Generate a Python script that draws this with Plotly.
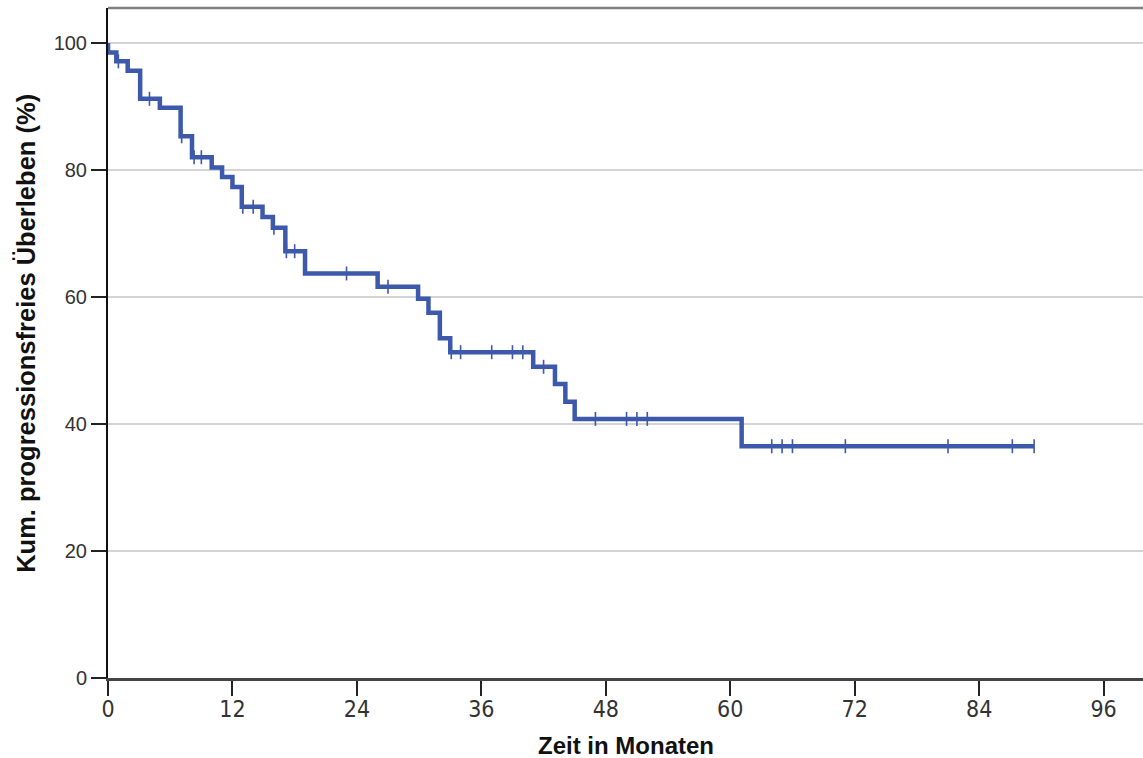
import numpy as np
import plotly.graph_objects as go

# Kaplan-Meier estimate: step times (months) and cumulative PFS (%)
step_months = [0, 0, 0.8, 1.9, 3.1, 5.0, 7.0, 8.1, 10.0, 11.0, 12.0, 12.9, 14.9,
               15.9, 17.1, 19.0, 26.0, 29.9, 30.9, 32.0, 33.0, 41.0, 43.1, 44.1,
               45.0, 61.1, 89.3]
step_surv = [100, 98.5, 97.1, 95.6, 91.2, 89.8, 85.3, 82.0, 80.4, 78.9, 77.3, 74.2,
             72.6, 70.9, 67.2, 63.7, 61.6, 59.7, 57.5, 53.5, 51.3, 49.0, 46.3, 43.5,
             40.8, 36.5, 36.5]

# censored observations (months)
censored_months = [1.0, 4.0, 7.1, 8.3, 9.0, 13.0, 14.0, 16.0, 17.2, 18.0, 23.0, 27.0,
                   33.1, 34.0, 37.0, 39.0, 40.0, 42.0, 47.0, 50.0, 51.0, 52.0, 64.0,
                   65.0, 66.0, 71.1, 81.0, 87.2, 89.3]

x_ticks = [0, 12, 24, 36, 48, 60, 72, 84, 96]
y_ticks = [0, 20, 40, 60, 80, 100]

blue = "rgb(61,89,171)"

# survival level at each censoring time (right-continuous step function)
t_arr = np.array(step_months)
s_arr = np.array(step_surv)
idx = np.searchsorted(t_arr, np.array(censored_months), side="right") - 1
censored_surv = s_arr[idx].tolist()

fig = go.Figure()
fig.add_trace(go.Scatter(
    x=step_months, y=step_surv, mode="lines",
    line=dict(color=blue, width=4.5, shape="hv"),
    hoverinfo="skip", showlegend=False,
))
fig.add_trace(go.Scatter(
    x=censored_months, y=censored_surv, mode="markers",
    marker=dict(symbol="line-ns", size=10, line=dict(color=blue, width=1.6)),
    hoverinfo="skip", showlegend=False,
))

y_tick_font = dict(family="Liberation Sans, Arial, sans-serif", size=20, color="#333333")
x_tick_font = dict(family="Liberation Sans Narrow, Arial Narrow, DejaVu Sans Condensed, sans-serif",
                   size=23, color="#333333")
title_font = dict(family="Liberation Sans, Arial, sans-serif", size=24, color="#111111")

fig.update_layout(
    width=1143, height=758,
    margin=dict(l=108, r=0, t=8, b=80),
    paper_bgcolor="white", plot_bgcolor="white",
    xaxis=dict(
        range=[0, 99.8], tickvals=x_ticks, ticktext=[str(v) for v in x_ticks],
        showgrid=False, zeroline=False,
        showline=True, linecolor="#444444", linewidth=2.5,
        ticks="outside", ticklen=15, tickwidth=1.5, tickcolor="#222222",
        tickfont=x_tick_font, ticklabelstandoff=-6,
    ),
    yaxis=dict(
        range=[0, 105.5], tickvals=y_ticks, ticktext=[str(v) for v in y_ticks],
        showgrid=True, gridcolor="#d4d4d4", gridwidth=1.5, zeroline=False,
        showline=True, linecolor="#111111", linewidth=2,
        ticks="outside", ticklen=15, tickwidth=1.5, tickcolor="#222222",
        tickfont=y_tick_font,
    ),
    shapes=[dict(type="line", xref="paper", yref="paper", x0=0, x1=1, y0=1, y1=1,
                 line=dict(color="#808080", width=2.5))],
    annotations=[
        dict(text="<b>Zeit in Monaten</b>", xref="paper", yref="paper",
             x=0.5, y=-0.101, xanchor="center", yanchor="middle",
             showarrow=False, font=title_font),
        dict(text="<b>Kum. progressionsfreies Überleben (%)</b>", xref="paper",
             yref="paper", x=-0.08, y=0.514, xanchor="center", yanchor="middle",
             textangle=-90, showarrow=False,
             font=dict(family="Liberation Sans, Arial, sans-serif", size=25.5,
                       color="#111111")),
    ],
)

fig.write_html("out.html")
